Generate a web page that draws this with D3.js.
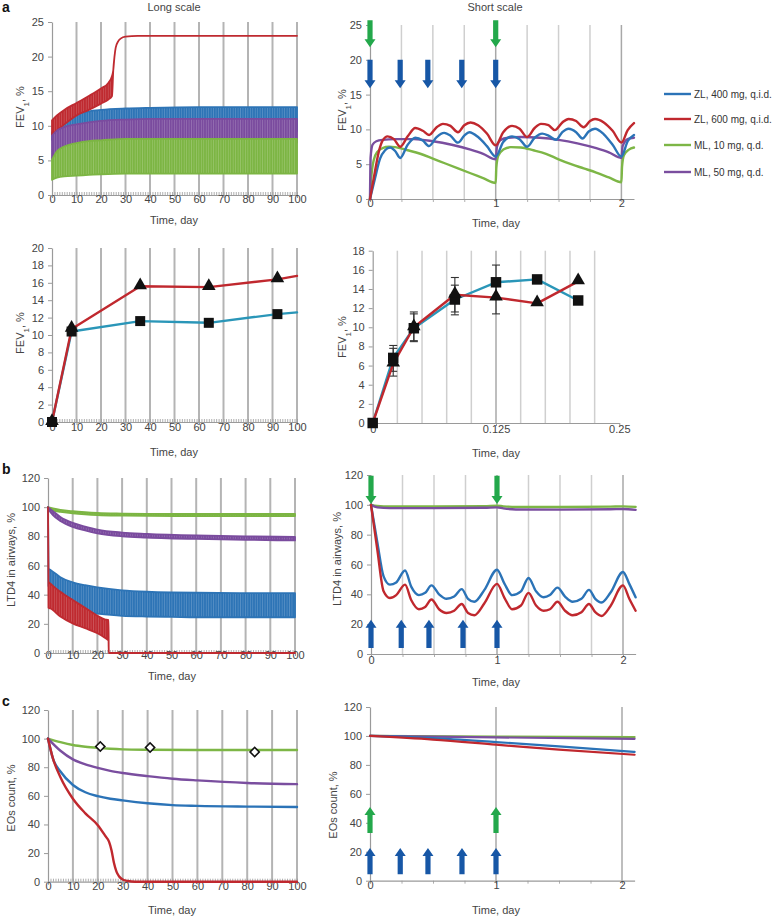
<!DOCTYPE html>
<html><head><meta charset="utf-8">
<script src="https://cdn.jsdelivr.net/npm/d3@7"></script>
<style>
body{margin:0;background:#fff}
text{font-family:"Liberation Sans",Arial,Helvetica,sans-serif}
</style>
</head><body>
<svg id="c" width="777" height="918"></svg>
<script>
// ================= DATA =================
const seriesNames  = ["ZL, 400 mg, q.i.d.","ZL, 600 mg, q.i.d.","ML, 10 mg, q.d.","ML, 50 mg, q.d."];
const seriesColors = ["#2b73b7","#c0282e","#7db646","#7a4e9f"];
const teal = "#2a96b8";

// --- a, long scale: FEV1 oscillation envelopes ---
const aLongDays     = [0,2,5,10,15,20,30,40,60,80,100];
const aLongGreenLo  = [2.2,2.5,2.7,2.8,2.9,3.0,3.1,3.1,3.1,3.1,3.1];
const aLongGreenHi  = [5.1,6.3,7.0,7.5,7.8,7.9,8.1,8.1,8.1,8.1,8.1];
const aLongPurpleLo = [5.2,5.8,6.3,6.8,7.0,7.2,7.5,7.6,7.6,7.6,7.6];
const aLongPurpleHi = [8.6,9.3,9.8,10.2,10.5,10.7,10.9,11.0,11.0,11.0,11.0];
const aLongBlueLo   = [8.0,8.2,8.4,8.6,8.8,9.0,9.2,9.2,9.2,9.2,9.2];
const aLongBlueHi   = [9.0,10.2,11.0,11.7,12.1,12.3,12.5,12.6,12.7,12.7,12.7];
const aLongRedDays  = [0,2,5,10,15,20,23,24.5,25,25.5,26,27,28,30,35,100];
const aLongRedLo    = [8.7,9.3,10.2,11.5,12.3,13.2,13.8,14.3,18.0,20.0,21.3,22.2,22.6,22.9,23,23];
const aLongRedHi    = [10.8,11.5,12.3,13.3,14.3,15.4,16.2,17.2,18.0,20.0,21.3,22.2,22.6,22.9,23,23];

// --- a, short scale: FEV1 (t in days) ---
const aShortRedT = [0,0.03,0.07,0.1,0.14,0.19,0.24,0.3,0.36,0.42,0.47,0.53,0.58,0.64,0.7,0.75,0.8,0.86,0.93,1.0,1.06,1.13,1.19,1.25,1.31,1.36,1.42,1.47,1.53,1.58,1.64,1.7,1.75,1.79,1.86,1.93,2.0,2.05,2.1];
const aShortRedV = [0,3,6.8,8.4,9.0,8.6,7.5,9.0,10.2,9.8,9.2,10.3,10.8,10.5,9.6,10.6,11.0,10.6,9.4,7.7,9.6,10.5,10.1,8.9,10.2,10.8,10.6,9.9,11.0,11.5,11.2,10.3,11.2,11.5,11.0,9.8,8.1,9.9,10.9];
const aShortBlueT = [0,0.04,0.08,0.12,0.16,0.2,0.24,0.3,0.36,0.42,0.47,0.53,0.59,0.64,0.7,0.75,0.79,0.86,0.93,1.0,1.06,1.13,1.19,1.25,1.31,1.37,1.42,1.48,1.53,1.58,1.64,1.69,1.74,1.79,1.86,1.93,2.0,2.05,2.1];
const aShortBlueV = [0,3,5.8,7.0,7.4,6.9,5.9,7.8,8.8,8.4,7.6,8.9,9.5,9.1,8.1,9.1,9.6,8.9,7.6,6.1,8.2,9.0,8.6,7.5,8.8,9.4,9.1,8.5,9.6,10.1,9.6,8.7,9.7,10.1,9.3,7.8,6.1,8.3,9.2];
const aShortPurpleT = [0,0.005,0.02,0.05,0.1,0.2,0.35,0.5,0.65,0.8,0.9,1.0,1.01,1.04,1.1,1.2,1.35,1.5,1.65,1.8,1.9,2.0,2.01,2.05,2.1];
const aShortPurpleV = [0,6,7.8,8.3,8.5,8.6,8.6,8.3,7.8,7.1,6.5,5.7,7.5,8.5,8.8,8.9,8.8,8.5,8.0,7.3,6.7,5.9,7.6,8.6,8.8];
const aShortGreenT = [0,0.01,0.03,0.06,0.1,0.15,0.2,0.3,0.4,0.5,0.6,0.7,0.8,0.9,1.0,1.005,1.02,1.06,1.12,1.2,1.3,1.4,1.5,1.6,1.7,1.8,1.9,2.0,2.005,2.02,2.06,2.1];
const aShortGreenV = [0,3,5.6,6.8,7.3,7.5,7.45,7.0,6.5,5.8,5.1,4.4,3.7,3.0,2.3,4.5,6.2,7.1,7.45,7.4,7.0,6.5,5.7,5.0,4.4,3.8,3.1,2.4,4.6,6.3,7.1,7.4];

// --- a, second row: observed FEV1 ---
const a2LineDays = [0,8,36,64,92,100];
const a2LineZL400 = [0,10.4,11.6,11.4,12.4,12.6];
const a2LineZL600 = [0,10.7,15.6,15.5,16.4,16.8];
const a2MarkDays = [0,8,36,64,92];
const a2MarkZL400 = [0,10.4,11.6,11.4,12.4];
const a2MarkZL600 = [0,10.7,15.6,15.5,16.4];

const a2rT = [0,0.0208,0.0417,0.0833,0.125,0.1667,0.2083];
const a2rZL400 = [0,6.8,9.9,12.9,14.7,15.0,12.8];
const a2rZL600 = [0,6.2,10.0,13.4,13.1,12.5,14.8];
const a2rZL400Lo = [null,5.4,8.5,11.3,12.9,null,null];
const a2rZL400Hi = [null,8.1,11.4,14.4,16.5,null,null];
const a2rZL600Lo = [null,4.9,8.6,11.6,11.4,null,null];
const a2rZL600Hi = [null,7.8,11.6,15.2,14.8,null,null];

// --- b, long scale: LTD4 envelopes ---
const bLongDays     = [0,2,5,10,15,20,30,40,60,80,100];
const bLongGreenLo  = [99.3,97.8,96.8,95.8,95.1,94.6,94.2,94.0,93.9,93.9,93.9];
const bLongGreenHi  = [100,99.2,98.2,97.2,96.5,96.0,95.6,95.4,95.3,95.3,95.3];
const bLongPurpleLo = [99,94.5,90.5,86.5,84.0,82.0,80.0,79.2,78.2,77.6,77.2];
const bLongPurpleHi = [100,97.3,93.3,89.2,86.7,84.6,82.6,81.7,80.6,80.0,79.6];
const bLongBlueDays = [0,0.2,1,3,5,10,15,20,30,40,50,60,80,100];
const bLongBlueLo   = [100,46,44,36,32,29.5,28,27,25.5,25,24.8,24.5,24.5,24.5];
const bLongBlueHi   = [100,58,57,54.5,52,48.5,46.5,45,43,42,41.5,41.3,41,41];
const bLongRedDays  = [0,0.2,1,5,10,15,20,23,24.5,24.6,100];
const bLongRedLo    = [100,31,30.5,25,20.3,17,13.5,10.5,8.5,0,0];
const bLongRedHi    = [100,49,47.5,42,36.3,31,25.5,23,22.5,0,0];

// --- b, short scale: LTD4 ---
const bShortBlueT = [0,0.05,0.1,0.15,0.2,0.27,0.32,0.38,0.43,0.48,0.54,0.6,0.66,0.72,0.77,0.82,0.9,1.0,1.06,1.12,1.19,1.25,1.31,1.37,1.42,1.48,1.54,1.6,1.67,1.73,1.78,1.83,1.9,2.0,2.05,2.1];
const bShortBlueV = [100,75,52,46.5,48,56,45,39.5,41,46,40,37,38.5,43.5,37,35,43,56.5,47,39.5,42,51,42,38,39.5,44.5,38.5,35,37,43,37,34.5,41,55,47,38];
const bShortRedT = bShortBlueT;
const bShortRedV = [100,70,42,37.5,39.5,46.5,36,30,31.5,36.5,30,27.5,29,33.5,27.5,26,34,47,37.5,30,32.5,41,32.5,29,30,35,29,26,28,33.5,28,25.5,32,46,37,29];
const bShortFlatT = [0,0.05,0.15,0.5,0.9,1.0,1.05,1.15,1.5,1.9,2.0,2.1];
const bShortGreenV  = [100,99.3,98.9,98.9,99.1,99.4,99.0,98.6,98.5,98.8,99.0,98.6];
const bShortPurpleV = [100,98.3,97.8,97.8,98.0,98.3,97.6,96.9,96.8,97.0,97.2,96.6];

// --- c, long scale: EOs count ---
const cGreenDays  = [0,5,10,15,20,25,30,40,60,80,100];
const cGreenV     = [100,97.5,95.5,94.3,93.5,92.9,92.5,92.2,92,92,92];
const cPurpleDays = [0,5,10,15,20,25,30,40,50,60,80,100];
const cPurpleV    = [100,91.5,85.5,82,79.5,77.5,76,73.8,72,70.8,69,68.2];
const cBlueDays   = [0,2,5,10,15,20,25,30,40,50,60,80,100];
const cBlueV      = [100,86,77,67.6,62.5,59.8,58,56.8,54.8,53.5,53,52.5,52.2];
const cRedDays    = [0,2,5,10,15,20,23,24.5,25.5,26.5,27.5,28.5,30,32,35,100];
const cRedV       = [100,86,73,58,47.8,39.5,32,28,22,13,7,3.8,1.5,0.5,0,0];
const cObsDays    = [21,41,83];
const cObsV       = [94.5,93.8,90.6];

// --- c, short scale ---
const cShortT2 = [0,1,2.1];
const cShortGreenV  = [100,99.6,99.2];
const cShortPurpleV = [100,99,98];
const cShortT5 = [0,0.5,1,1.5,2.1];
const cShortBlueV = [100,98.5,95.8,92.8,89];
const cShortRedV  = [100,97.5,94,90.5,87];

// --- dosing (arrows) ---
const doseZL = [0,0.24,0.46,0.73,1];
const doseML = [0,1];

// ================= DRAWING =================
const svg = d3.select('#c');
const GRID_L = "#b4b4b4", GRID_S = "#cfcfcf", GRID_D = "#a8a8a8", AX = "#9a9a9a";
const defs = svg.append('defs');

function zip(a,b){ return a.map((d,i)=>[d,b[i]]); }

function stripe(color){
  const id = 'st' + color.slice(1);
  if(!document.getElementById(id)){
    const p = defs.append('pattern').attr('id',id).attr('patternUnits','userSpaceOnUse')
      .attr('width',2.45).attr('height',10);
    p.append('rect').attr('width',2.45).attr('height',10).attr('fill',color);
    p.append('rect').attr('width',0.7).attr('height',10).attr('fill','#fff').attr('opacity',0.22);
  }
  return `url(#${id})`;
}

function panel(o){
  const x = d3.scaleLinear().domain(o.xd).range(o.xr);
  const y = d3.scaleLinear().domain(o.yd).range(o.yr);
  const g = svg.append('g');
  (o.grid||[]).forEach(gr=>{
    g.selectAll(null).data(gr.values).join('line')
      .attr('x1',d=>x(d)).attr('x2',d=>x(d))
      .attr('y1',y(o.yd[0])).attr('y2',y(o.yd[1]))
      .attr('stroke',gr.color).attr('stroke-width',gr.width);
  });
  if(o.minor){
    const ma = d3.axisBottom(x).tickValues(o.minor).tickSize(o.minorSize).tickFormat('');
    const mg = g.append('g').attr('transform',`translate(0,${o.yr[0]})`).call(ma);
    mg.select('.domain').remove();
    mg.selectAll('line').attr('stroke',AX).attr('stroke-width',0.8);
  }
  const xa = d3.axisBottom(x).tickValues(o.xTicks).tickSize(3).tickSizeOuter(0).tickFormat(o.xFmt||(d=>d));
  const xg = g.append('g').attr('transform',`translate(0,${o.yr[0]})`).call(xa);
  xg.select('.domain').attr('stroke',AX).attr('stroke-width',1.2);
  xg.selectAll('line').attr('stroke',AX);
  xg.selectAll('text').attr('y',o.xLblOff).attr('dy',0).attr('fill','#444')
    .style('font-size','11px').style('font-family','"Liberation Sans",Arial,sans-serif');
  const ya = d3.axisLeft(y).tickValues(o.yTicks).tickSize(4).tickPadding(4).tickSizeOuter(0);
  const yg = g.append('g').attr('transform',`translate(${o.xr[0]},0)`).call(ya);
  yg.select('.domain').attr('stroke',AX).attr('stroke-width',1.2);
  yg.selectAll('line').attr('stroke',AX);
  yg.selectAll('text').attr('fill','#444').style('font-size','11px')
    .style('font-family','"Liberation Sans",Arial,sans-serif');
  g.append('text').attr('x',o.xTitleX).attr('y',o.xTitleY).attr('text-anchor','middle')
    .attr('fill','#444').style('font-size','11px').text('Time, day');
  const yt = g.append('text').attr('transform',`translate(${o.yTitleX},${o.yTitleY}) rotate(-90)`)
    .attr('text-anchor','middle').attr('fill','#444').style('font-size','11px');
  if(o.fev){
    yt.append('tspan').text('FEV');
    yt.append('tspan').attr('baseline-shift','sub').style('font-size','8px').text('1');
    yt.append('tspan').text(', %');
  } else yt.text(o.yTitle);
  return {x,y,g};
}

function band(p, days, lo, hi, color){
  const data = days.map((d,i)=>({d,lo:lo[i],hi:hi[i]}));
  p.g.append('path').datum(data)
    .attr('d', d3.area().x(d=>p.x(d.d)).y0(d=>p.y(d.lo)).y1(d=>p.y(d.hi)).curve(d3.curveMonotoneX))
    .attr('fill',stripe(color)).attr('stroke',color).attr('stroke-width',1.8).attr('stroke-linejoin','round');
}
function line(p, xs, ys, color, w, curve){
  p.g.append('path').datum(zip(xs,ys))
    .attr('d', d3.line().x(d=>p.x(d[0])).y(d=>p.y(d[1])).curve(curve||d3.curveMonotoneX))
    .attr('fill','none').attr('stroke',color).attr('stroke-width',w||2.4)
    .attr('stroke-linejoin','round').attr('stroke-linecap','round');
}
function arrows(p, times, from, to, color){
  times.forEach(t=>{
    const cx = p.x(t), y0 = p.y(from), y1 = p.y(to);
    const dir = Math.sign(y1-y0);
    const hl = 8, hw = 5.5, sw = 2.6;
    const yb = y1 - dir*hl;
    const pts = [[cx-sw,y0],[cx+sw,y0],[cx+sw,yb],[cx+hw,yb],[cx,y1],[cx-hw,yb],[cx-sw,yb]];
    p.g.append('polygon').attr('points',pts.map(q=>q.join(',')).join(' ')).attr('fill',color);
  });
}
const GREEN_ARROW = "#23a84b", BLUE_ARROW = "#1757a6";

const longTicks = d3.range(0,101,10);
const longGrid = [{values:d3.range(10,101,10), color:GRID_L, width:2}];
const longMinor = d3.range(0,101,1);
const shortGrid = [{values:[0.25,0.5,0.75,1.25,1.5,1.75], color:GRID_S, width:1.5},{values:[1,2], color:GRID_D, width:1.5}];
const shortMinor = [0.25,0.5,0.75,1.25,1.5,1.75];

// ---------- a: long scale ----------
const pAL = panel({xd:[0,100], xr:[52,297], yd:[0,25], yr:[195,22], yTicks:d3.range(0,26,5), xTicks:longTicks,
  grid:longGrid, minor:longMinor, minorSize:-3, xLblOff:8, xTitleX:174, xTitleY:224, yTitleX:24, yTitleY:107, fev:true});
band(pAL, aLongDays, aLongBlueLo, aLongBlueHi, "#2d74b6");
band(pAL, aLongRedDays, aLongRedLo, aLongRedHi, "#bf2a30");
band(pAL, aLongDays, aLongPurpleLo, aLongPurpleHi, "#7a4b9e");
band(pAL, aLongDays, aLongGreenLo, aLongGreenHi, "#7cb543");

// ---------- a: short scale ----------
const pAR = panel({xd:[0,2.1], xr:[370,370+2.1*125.7], yd:[0,25], yr:[199,25], yTicks:d3.range(0,26,5), xTicks:[0,1,2],
  grid:shortGrid, minor:shortMinor, minorSize:3, xLblOff:8, xTitleX:496, xTitleY:227, yTitleX:346, yTitleY:110, fev:true});
line(pAR, aShortGreenT, aShortGreenV, seriesColors[2]);
line(pAR, aShortPurpleT, aShortPurpleV, seriesColors[3]);
line(pAR, aShortBlueT, aShortBlueV, seriesColors[0]);
line(pAR, aShortRedT, aShortRedV, seriesColors[1]);
arrows(pAR, doseML, 25.7, 21.8, GREEN_ARROW);
arrows(pAR, doseZL, 20, 15.9, BLUE_ARROW);

// ---------- legend ----------
const legY = [94,119,145,172];
const lg = svg.append('g');
seriesNames.forEach((n,i)=>{
  lg.append('line').attr('x1',664).attr('x2',691).attr('y1',legY[i]).attr('y2',legY[i])
    .attr('stroke',seriesColors[i]).attr('stroke-width',2.4);
  lg.append('text').attr('x',694).attr('y',legY[i]+3.5).attr('fill','#333').style('font-size','10px').text(n);
});

// ---------- a: second row left ----------
const pA2L = panel({xd:[0,100], xr:[52,297], yd:[0,20], yr:[422,248], yTicks:d3.range(0,21,2), xTicks:longTicks,
  grid:longGrid, minor:longMinor, minorSize:-3, xLblOff:9, xTitleX:174, xTitleY:456, yTitleX:24, yTitleY:333, fev:true});
line(pA2L, a2LineDays, a2LineZL400, teal, 2.4, d3.curveLinear);
line(pA2L, a2LineDays, a2LineZL600, seriesColors[1], 2.4, d3.curveLinear);
pA2L.g.selectAll(null).data(zip(a2MarkDays,a2MarkZL600)).join('path')
  .attr('d', d3.symbol(d3.symbolTriangle, 80)).attr('transform',d=>`translate(${pA2L.x(d[0])},${pA2L.y(d[1])-1})`).attr('fill','#111');
pA2L.g.selectAll(null).data(zip(a2MarkDays,a2MarkZL400)).join('path')
  .attr('d', d3.symbol(d3.symbolSquare, 100)).attr('transform',d=>`translate(${pA2L.x(d[0])},${pA2L.y(d[1])})`).attr('fill','#111');

// ---------- a: second row right ----------
const pA2R = panel({xd:[0,0.25], xr:[372.7,619.3], yd:[0,18], yr:[423,250.7], yTicks:d3.range(0,19,2), xTicks:[0,0.125,0.25],
  grid:[{values:[0.025,0.05,0.075,0.1,0.15,0.175,0.2,0.225], color:GRID_S, width:1.5},{values:[0.125], color:GRID_D, width:1.5}],
  xFmt:d=>d===0?'0':String(d), xLblOff:10, xTitleX:496, xTitleY:457, yTitleX:346, yTitleY:337, fev:true});
function errbars(p, xs, lo, hi){
  xs.forEach((t,i)=>{
    if(lo[i]==null) return;
    const cx=p.x(t);
    p.g.append('line').attr('x1',cx).attr('x2',cx).attr('y1',p.y(lo[i])).attr('y2',p.y(hi[i])).attr('stroke','#333').attr('stroke-width',1.1);
    [lo[i],hi[i]].forEach(v=>p.g.append('line').attr('x1',cx-4).attr('x2',cx+4).attr('y1',p.y(v)).attr('y2',p.y(v)).attr('stroke','#333').attr('stroke-width',1.1));
  });
}
errbars(pA2R, a2rT, a2rZL400Lo, a2rZL400Hi);
errbars(pA2R, a2rT, a2rZL600Lo, a2rZL600Hi);
line(pA2R, a2rT, a2rZL400, teal, 2.4, d3.curveLinear);
line(pA2R, a2rT, a2rZL600, seriesColors[1], 2.4, d3.curveLinear);
pA2R.g.selectAll(null).data(zip(a2rT,a2rZL400)).join('path')
  .attr('d', d3.symbol(d3.symbolSquare, 110)).attr('transform',d=>`translate(${pA2R.x(d[0])},${pA2R.y(d[1])})`).attr('fill','#111');
pA2R.g.selectAll(null).data(zip(a2rT,a2rZL600).slice(1)).join('path')
  .attr('d', d3.symbol(d3.symbolTriangle, 80)).attr('transform',d=>`translate(${pA2R.x(d[0])},${pA2R.y(d[1])-1})`).attr('fill','#111');

// ---------- b: long ----------
const pBL = panel({xd:[0,100], xr:[48,295], yd:[0,120], yr:[653,478], yTicks:d3.range(0,121,20), xTicks:longTicks,
  grid:longGrid, minor:longMinor, minorSize:-3, xLblOff:6, xTitleX:172, xTitleY:680, yTitleX:15, yTitleY:560, yTitle:'LTD4 in airways, %'});
band(pBL, bLongDays, bLongGreenLo, bLongGreenHi, "#7cb543");
band(pBL, bLongDays, bLongPurpleLo, bLongPurpleHi, "#7a4b9e");
band(pBL, bLongBlueDays, bLongBlueLo, bLongBlueHi, "#2d74b6");
band(pBL, bLongRedDays, bLongRedLo, bLongRedHi, "#bf2a30");

// ---------- b: short ----------
const pBR = panel({xd:[0,2.1], xr:[371,371+2.1*126], yd:[0,120], yr:[654,475], yTicks:d3.range(0,121,20), xTicks:[0,1,2],
  grid:shortGrid, minor:shortMinor, minorSize:3, xLblOff:10, xTitleX:496, xTitleY:686, yTitleX:341, yTitleY:559, yTitle:'LTD4 in airways, %'});
line(pBR, bShortFlatT, bShortGreenV, seriesColors[2]);
line(pBR, bShortFlatT, bShortPurpleV, seriesColors[3]);
line(pBR, bShortBlueT, bShortBlueV, seriesColors[0]);
line(pBR, bShortRedT, bShortRedV, seriesColors[1]);
arrows(pBR, doseML, 119.5, 100.5, GREEN_ARROW);
arrows(pBR, doseZL, 4, 23, BLUE_ARROW);

// ---------- c: long ----------
const pCL = panel({xd:[0,100], xr:[48,297], yd:[0,120], yr:[881.7,710], yTicks:d3.range(0,121,20), xTicks:longTicks,
  grid:longGrid, minor:longMinor, minorSize:-3, xLblOff:8, xTitleX:172, xTitleY:914, yTitleX:15, yTitleY:798, yTitle:'EOs count, %'});
line(pCL, cGreenDays, cGreenV, seriesColors[2], 2.4);
line(pCL, cPurpleDays, cPurpleV, seriesColors[3], 2.4);
line(pCL, cBlueDays, cBlueV, seriesColors[0], 2.4);
line(pCL, cRedDays, cRedV, seriesColors[1], 2.4);
pCL.g.selectAll(null).data(zip(cObsDays,cObsV)).join('path')
  .attr('d', d3.symbol(d3.symbolSquare, 42)).attr('transform',d=>`translate(${pCL.x(d[0])},${pCL.y(d[1])}) rotate(45)`)
  .attr('fill','#fff').attr('stroke','#111').attr('stroke-width',1.6);

// ---------- c: short ----------
const pCR = panel({xd:[0,2.1], xr:[370,370+2.1*126], yd:[0,120], yr:[880.7,707], yTicks:d3.range(0,121,20), xTicks:[0,1,2],
  grid:[{values:[1,2], color:GRID_D, width:1.5}], minor:shortMinor, minorSize:3, xLblOff:8, xTitleX:496, xTitleY:914, yTitleX:337, yTitleY:805, yTitle:'EOs count, %'});
line(pCR, cShortT2, cShortGreenV, seriesColors[2], 2.2, d3.curveLinear);
line(pCR, cShortT2, cShortPurpleV, seriesColors[3], 2.2, d3.curveLinear);
line(pCR, cShortT5, cShortBlueV, seriesColors[0], 2.2);
line(pCR, cShortT5, cShortRedV, seriesColors[1], 2.2);
arrows(pCR, doseML, 33, 51, GREEN_ARROW);
arrows(pCR, doseZL, 4.5, 22.6, BLUE_ARROW);

// ---------- headings ----------
svg.append('text').attr('x',174).attr('y',11).attr('text-anchor','middle').attr('fill','#444').style('font-size','11px').text('Long scale');
svg.append('text').attr('x',495).attr('y',11).attr('text-anchor','middle').attr('fill','#444').style('font-size','11px').text('Short scale');
[['a',12],['b',474],['c',706]].forEach(([t,yy])=>svg.append('text').attr('x',2).attr('y',yy)
  .attr('fill','#111').style('font-size','14px').style('font-weight','bold').text(t));
</script>
</body></html>
